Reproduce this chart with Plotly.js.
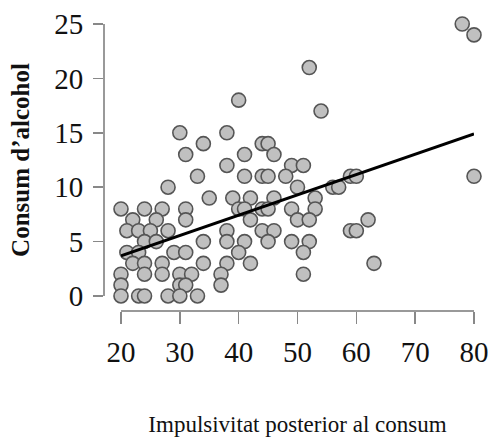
<!DOCTYPE html>
<html>
<head>
<meta charset="utf-8">
<script src="https://cdn.plot.ly/plotly-3.0.1.min.js"></script>
<style>html,body{margin:0;padding:0;background:#fff;}#chart{width:488px;height:439px;}</style>
</head>
<body>
<div id="chart"></div>
<script>
// Impulsivitat posterior al consum (x) vs Consum d'alcohol (y)
const impulsivitat = [
  78, 80, 80,
  52, 54, 40,
  30, 38,
  34, 44, 45,
  31, 41, 46,
  38, 49, 51,
  33, 41, 44, 45, 48, 59, 60,
  28, 50, 56, 57,
  35, 39, 42, 46, 53,
  20, 24, 27, 31, 40, 41, 44, 45, 49, 53,
  22, 26, 31, 42, 50, 52, 62,
  21, 23, 25, 28, 38, 44, 46, 59, 60,
  24, 26, 34, 38, 41, 45, 49, 52,
  21, 23, 29, 31, 40, 51,
  22, 24, 27, 34, 38, 42, 63,
  20, 24, 27, 30, 32, 37, 51,
  20, 30, 31, 37,
  20, 23, 24, 28, 30, 33
];
const consum = [
  25, 24, 11,
  21, 17, 18,
  15, 15,
  14, 14, 14,
  13, 13, 13,
  12, 12, 12,
  11, 11, 11, 11, 11, 11, 11,
  10, 10, 10, 10,
  9, 9, 9, 9, 9,
  8, 8, 8, 8, 8, 8, 8, 8, 8, 8,
  7, 7, 7, 7, 7, 7, 7,
  6, 6, 6, 6, 6, 6, 6, 6, 6,
  5, 5, 5, 5, 5, 5, 5, 5,
  4, 4, 4, 4, 4, 4,
  3, 3, 3, 3, 3, 3, 3,
  2, 2, 2, 2, 2, 2, 2,
  1, 1, 1, 1,
  0, 0, 0, 0, 0, 0
];
// Fitted regression line
const fitX = [20, 80];
const fitY = [3.7, 14.9];

const xTicks = [20, 30, 40, 50, 60, 70, 80];
const yTicks = [0, 5, 10, 15, 20, 25];

const serif = '"Liberation Serif", "Times New Roman", serif';

const traces = [
  {
    x: impulsivitat, y: consum, type: 'scatter', mode: 'markers',
    cliponaxis: false,
    marker: {size: 14, color: '#c0c0c0', line: {color: '#555555', width: 1.6}},
    hoverinfo: 'skip', showlegend: false
  },
  {
    x: fitX, y: fitY, type: 'scatter', mode: 'lines',
    cliponaxis: false,
    line: {color: '#000000', width: 3},
    hoverinfo: 'skip', showlegend: false
  }
];

const layout = {
  width: 488, height: 439,
  margin: {l: 103, r: 14, t: 24, b: 129, autoexpand: false},
  paper_bgcolor: '#ffffff', plot_bgcolor: '#ffffff',
  showlegend: false,
  font: {family: serif, color: '#111111'},
  xaxis: {
    domain: [0.0485, 1], anchor: 'free', position: 0,
    range: [20, 80], tickvals: xTicks, ticktext: xTicks.map(String),
    showgrid: false, zeroline: false,
    showline: true, linecolor: '#999999', linewidth: 1.5,
    ticks: 'outside', ticklen: 12, tickwidth: 1.5, tickcolor: '#888888',
    tickfont: {family: serif, size: 29, color: '#111111'},
    ticklabelstandoff: 4, ticklabeloverflow: 'allow',
    title: {text: 'Impulsivitat posterior al consum', font: {family: serif, size: 23, color: '#111111'}, standoff: 48},
    automargin: false
  },
  yaxis: {
    domain: [0.049, 1], anchor: 'free', position: 0,
    range: [0, 25], tickvals: yTicks, ticktext: yTicks.map(String),
    showgrid: false, zeroline: false,
    showline: true, linecolor: '#999999', linewidth: 1.5,
    ticks: 'outside', ticklen: 10, tickwidth: 1.5, tickcolor: '#888888',
    tickfont: {family: serif, size: 29, color: '#111111'},
    ticklabelstandoff: 4, ticklabeloverflow: 'allow',
    title: {text: 'Consum d’alcohol', font: {family: serif, size: 25, color: '#111111', weight: 'bold'}, standoff: 16},
    automargin: false
  }
};

Plotly.newPlot('chart', traces, layout, {displayModeBar: false, staticPlot: true});
</script>
</body>
</html>
